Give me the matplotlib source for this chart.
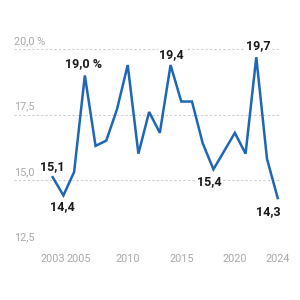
import matplotlib
matplotlib.use("Agg")
import matplotlib.pyplot as plt
import matplotlib.transforms as mtransforms

plt.rcParams["font.family"] = ["Roboto", "DejaVu Sans"]

BLUE = "#1f66b5"
GRID = "#cccccc"
MUTED = "#a8a8a8"
INK = "#1a1a1a"

years = list(range(2003, 2025))
values = [15.1, 14.4, 15.3, 19.0, 16.3, 16.5, 17.7, 19.4, 16.0, 17.6, 16.8,
          19.4, 18.0, 18.0, 16.4, 15.4, 16.1, 16.8, 16.0, 19.7, 15.8, 14.3]

y_ticks = [12.5, 15.0, 17.5, 20.0]
y_labels = ["12,5", "15,0", "17,5", "20,0 %"]
x_ticks = [2003, 2005, 2010, 2015, 2020, 2024]

# labelled points: year, text, offset in pixels (dx, dy)
callouts = [
    (2003, "15,1", (0, 11)),
    (2004, "14,4", (-1, -11)),
    (2006, "19,0 %", (-1, 11.5)),
    (2014, "19,4", (1, 10)),
    (2022, "19,7", (2, 11.5)),
    (2018, "15,4", (-4, -12.5)),
    (2024, "14,3", (-9, -13.5)),
]

fig = plt.figure(figsize=(3, 3), dpi=100)
ax = fig.add_axes([14 / 300, 55 / 300, 265 / 300, 215.2 / 300])
ax.set_xlim(1999.39, 2024.12)
ax.set_ylim(12.5, 20.75)

for s in ax.spines.values():
    s.set_visible(False)

for yv, lab in zip(y_ticks, y_labels):
    ax.axhline(yv, color=GRID, lw=0.8, ls=(0, (2, 2)), zorder=0)
    ax.annotate(lab, (0, yv), xycoords=("axes fraction", "data"),
                xytext=(0, 3), textcoords="offset pixels",
                ha="left", va="bottom", color=MUTED, fontsize=7.8)

ax.set_yticks([])
ax.set_xticks(x_ticks)
ax.set_xticklabels([str(y) for y in x_ticks], color=MUTED, fontsize=7.8)
ax.tick_params(axis="x", length=0, pad=6.5)
# nudge 2005 right so it does not collide with 2003
shift = mtransforms.ScaledTranslation(5 / 100, 0, fig.dpi_scale_trans)
lbl = ax.get_xticklabels()[1]
lbl.set_transform(lbl.get_transform() + shift)

ax.plot(years, values, color=BLUE, lw=1.8, clip_on=False, zorder=3,
        solid_joinstyle="miter")

for yr, txt, (dx, dy) in callouts:
    v = values[years.index(yr)]
    ax.annotate(txt, (yr, v), xytext=(dx, dy), textcoords="offset pixels",
                ha="center", va="center", fontsize=9, fontweight="bold",
                color=INK, zorder=4,
                bbox=dict(boxstyle="square,pad=0.1", fc="white", ec="none"))

fig.savefig("out.png", dpi=100)
